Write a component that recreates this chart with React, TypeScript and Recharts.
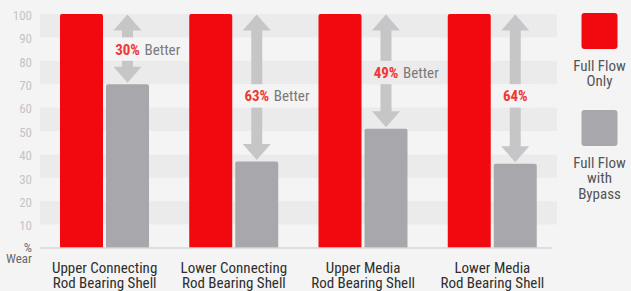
import React from "react";
import { BarChart, Bar, XAxis, YAxis, ReferenceArea } from "recharts";

const categories = [
  "Upper Connecting|Rod Bearing Shell",
  "Lower Connecting|Rod Bearing Shell",
  "Upper Media|Rod Bearing Shell",
  "Lower Media|Rod Bearing Shell",
];
const fullFlowOnly = [100, 100, 100, 100];
const fullFlowWithBypass = [70, 37, 51, 36];
const improvement = ["30%", "63%", "49%", "64%"];
const improvementSuffix = ["Better", "Better", "Better", ""];
const yTicks = [0, 10, 20, 30, 40, 50, 60, 70, 80, 90, 100];
const seriesNames = ["Full Flow|Only", "Full Flow|with|Bypass"];
const yUnitLabel = ["%", "Wear"];

const FONT = '"Liberation Sans Narrow", "Roboto Condensed", Roboto, "Liberation Sans", Arial, sans-serif';
const BG = "#f4f4f4";
const BAND = "#ebebeb";
const RED = "#f2080f";
const GRAY = "#a8a8ac";
const ARROW = "#c6c6c8";
const RED_TEXT = "#ee3833";

const data = categories.map((c, i) => ({
  name: c,
  only: fullFlowOnly[i],
  bypass: fullFlowWithBypass[i],
  pct: improvement[i],
  suffix: improvementSuffix[i],
}));

const bands = yTicks
  .filter((t) => t < 100 && Math.floor(t / 10) % 2 === 1)
  .map((t) => [t, t + 10]);

function BypassShape(props: any) {
  const { x, y, width, height, payload } = props;
  const v = payload.bypass;
  const base = y + height;
  const unit = height / v;
  const y100 = base - 100 * unit;
  const cx = x + width / 2;
  const tipTop = y100 + 0.5;
  const tipBot = y - 1.5;
  const hh = 16, hw = 14, sw = 5.5;
  const arrow = `M${cx},${tipTop} L${cx + hw},${tipTop + hh} L${cx + sw},${tipTop + hh} L${cx + sw},${tipBot - hh} L${cx + hw},${tipBot - hh} L${cx},${tipBot} L${cx - hw},${tipBot - hh} L${cx - sw},${tipBot - hh} L${cx - sw},${tipTop + hh} L${cx - hw},${tipTop + hh} Z`;
  const mid = (v + 100) / 2;
  const band = Math.floor(mid / 10);
  const labelV = band * 10 + 5;
  const labelY = base - labelV * unit;
  const boxTop = base - (band + 1) * 10 * unit;
  const boxBottom = base - band * 10 * unit;
  const boxFill = band % 2 === 1 ? BAND : BG;
  const hasSuffix = !!payload.suffix;
  const boxLeft = cx - 21;
  const boxRight = hasSuffix ? cx + 55 : cx + 17;
  const r = 2;
  return (
    <g>
      <path
        d={`M${x},${base} L${x},${y + r} Q${x},${y} ${x + r},${y} L${x + width - r},${y} Q${x + width},${y} ${x + width},${y + r} L${x + width},${base} Z`}
        fill={GRAY}
      />
      <path d={arrow} fill={ARROW} />
      <rect x={boxLeft} y={boxTop} width={boxRight - boxLeft} height={boxBottom - boxTop} fill={boxFill} />
      <text x={cx} y={labelY} dy="0.36em" textAnchor="middle" fill={RED_TEXT} fontWeight="bold" fontSize={15}>
        {payload.pct}
      </text>
      {hasSuffix && (
        <text x={cx + 17} y={labelY} dy="0.36em" textAnchor="start" fill="#7a7a7a" fontSize={15}>
          {payload.suffix}
        </text>
      )}
    </g>
  );
}

function XTick(props: any) {
  const { x, y, payload } = props;
  const lines = String(payload.value).split("|");
  return (
    <g>
      {lines.map((l, i) => (
        <text key={i} x={x} y={y + 24.5 + i * 15.5} textAnchor="middle" fill="#2e2e2e" fontSize={15}>
          {l}
        </text>
      ))}
    </g>
  );
}

function YTick(props: any) {
  const { x, y, payload } = props;
  if (payload.value === 0) {
    return (
      <g>
        <text x={x} y={y + 3.5} textAnchor="end" fill="#707070" fontSize={13}>
          {yUnitLabel[0]}
        </text>
        <text x={x} y={y + 14.5} textAnchor="end" fill="#6a6a6a" fontSize={13}>
          {yUnitLabel[1]}
        </text>
      </g>
    );
  }
  return (
    <text x={x} y={y} dy="0.45em" textAnchor="end" fill="#c4c4c4" fontSize={13}>
      {payload.value}
    </text>
  );
}

function LegendOverlay() {
  const colors = [RED, GRAY];
  const tops = [13, 110];
  return (
    <svg width={631} height={291} style={{ position: "absolute", left: 0, top: 0, pointerEvents: "none" }}>
      {seriesNames.map((n, i) => (
        <g key={i}>
          <rect x={581.5} y={tops[i]} width={36} height={36} rx={3} fill={colors[i]} />
          {n.split("|").map((l, j) => (
            <text
              key={j}
              x={599.5}
              y={tops[i] + 57.5 + j * 15.5}
              textAnchor="middle"
              fill="#555"
              fontSize={15}
              fontFamily={FONT}
            >
              {l}
            </text>
          ))}
        </g>
      ))}
    </svg>
  );
}

export default function App() {
  return (
    <div
      style={{
        position: "absolute",
        left: 0,
        top: 0,
        width: 631,
        height: 291,
        background: BG,
        fontFamily: FONT,
      }}
    >
      <BarChart
        width={631}
        height={291}
        data={data}
        margin={{ top: 14, right: 79, left: 0, bottom: 0 }}
        barGap={3}
        barSize={43}
      >
        {bands.map(([a, b]) => (
          <ReferenceArea key={a} y1={a} y2={b} fill={BAND} fillOpacity={1} stroke="none" />
        ))}
        <XAxis
          dataKey="name"
          height={43}
          tickSize={0}
          tickMargin={0}
          tickLine={false}
          axisLine={{ stroke: "#d6d6d6", strokeWidth: 1.5 }}
          tick={<XTick />}
          interval={0}
          padding={{ left: 0, right: -5 }}
        />
        <YAxis
          width={40}
          domain={[0, 100]}
          ticks={yTicks}
          axisLine={false}
          tickLine={false}
          tickSize={0}
          tickMargin={8}
          tick={<YTick />}
          interval={0}
        />
        <Bar dataKey="only" fill={RED} radius={[2, 2, 0, 0]} isAnimationActive={false} />
        <Bar dataKey="bypass" fill={GRAY} shape={<BypassShape />} isAnimationActive={false} />
      </BarChart>
      <LegendOverlay />
    </div>
  );
}
